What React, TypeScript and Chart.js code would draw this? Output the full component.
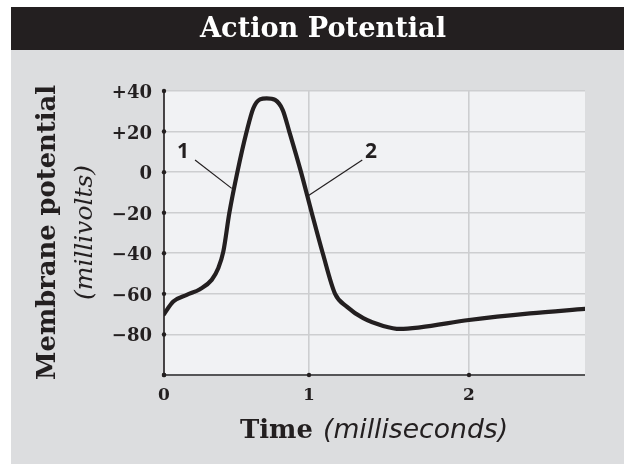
import React, { useEffect, useRef } from 'react';
import { Chart, registerables, LinearScale } from 'chart.js';

// ---------- data ----------
const TITLE = 'Action Potential';
const Y_TITLE = 'Membrane potential';
const Y_SUBTITLE = '(millivolts)';
const X_TITLE = 'Time';
const X_SUBTITLE = '(milliseconds)';

const timeMs = [
  0, 0.064, 0.157, 0.248, 0.329, 0.374, 0.409, 0.451, 0.506, 0.57,
  0.616, 0.662, 0.708, 0.766, 0.819, 0.864, 0.945, 1.017, 1.086, 1.163,
  1.236, 1.339, 1.464, 1.569, 1.694, 2.0, 2.381, 2.725,
];
const potentialMv = [
  -70, -63.8, -60.5, -57.7, -53.1, -47.4, -39.2, -20, 0, 20,
  31.5, 35.9, 36.4, 35.6, 30.6, 20, 0, -20, -40, -60,
  -66.3, -72, -75.8, -77.3, -76.5, -72.9, -69.6, -67.4,
];

const X_MAX = 2.725;
const X_TICK_VALUES = [0, 1, 2];
const X_TICK_LABELS = ['0', '1', '2'];
const Y_MIN = -100;
const Y_MAX = 40;
const Y_GRID_VALUES = [-100, -80, -60, -40, -20, 0, 20, 40];
const Y_TICK_VALUES = [-80, -60, -40, -20, 0, 20, 40];
const Y_TICK_LABELS = ['\u221280', '\u221260', '\u221240', '\u221220', '0', '+20', '+40'];

// callouts: label, label anchor (ms, mV), leader start, leader end
const calloutLabels = ['1', '2'];
const calloutLabelX = [0.131, 1.3875];
const calloutLabelY = [6.8, 6.8];
const leaderStartX = [0.214, 1.333];
const leaderStartY = [6.0, 6.0];
const leaderEndX = [0.467, 0.992];
const leaderEndY = [-8.0, -11.7];

// the printed time axis is not evenly spaced: 0->1 is shorter than 1->2
const X_BREAK_VALUES = [0, 1, 2, X_MAX];
const X_BREAK_FRACTIONS = [0, 145 / 421, 305 / 421, 1];

// ---------- style ----------
const INK = '#231f20';
const PANEL = '#dcdddf';
const PLOT_BG = '#f1f2f4';
const GRID = '#cdced0';
const X_AXIS = '#555557';

function valueToFraction(v: number) {
  const b = X_BREAK_VALUES, f = X_BREAK_FRACTIONS;
  let i = 0;
  while (i < b.length - 2 && v > b[i + 1]) i++;
  const t = (v - b[i]) / (b[i + 1] - b[i]);
  return f[i] + t * (f[i + 1] - f[i]);
}
function fractionToValue(d: number) {
  const b = X_BREAK_VALUES, f = X_BREAK_FRACTIONS;
  let i = 0;
  while (i < f.length - 2 && d > f[i + 1]) i++;
  const t = (d - f[i]) / (f[i + 1] - f[i]);
  return b[i] + t * (b[i + 1] - b[i]);
}

class SegmentedScale extends LinearScale {
  static id = 'segmented';
  static defaults = LinearScale.defaults;
  getPixelForValue(value: any) {
    if (value === null || value === undefined) return NaN;
    return (this as any).getPixelForDecimal(valueToFraction(value));
  }
  getValueForPixel(pixel: number) {
    return fractionToValue((this as any).getDecimalForPixel(pixel));
  }
}

Chart.register(...registerables, SegmentedScale as any);

function fitFont(ctx: CanvasRenderingContext2D, text: string, style: string, family: string, target: number) {
  const base = 20;
  ctx.font = `${style} ${base}px ${family}`;
  const w = ctx.measureText(text).width;
  const size = (base * target) / w;
  ctx.font = `${style} ${size.toFixed(2)}px ${family}`;
}

const decorPlugin = {
  id: 'decor',
  beforeDraw(chart: any) {
    const { ctx, chartArea } = chart;
    ctx.save();
    ctx.fillStyle = '#ffffff';
    ctx.fillRect(0, 0, 624, 464);
    ctx.fillStyle = PANEL;
    ctx.fillRect(11, 50, 613, 414);
    ctx.fillStyle = INK;
    ctx.fillRect(11, 7, 613, 43);
    ctx.fillStyle = PLOT_BG;
    ctx.fillRect(chartArea.left, chartArea.top, chartArea.right - chartArea.left, chartArea.bottom - chartArea.top);
    // title
    ctx.fillStyle = '#ffffff';
    fitFont(ctx, TITLE, 'bold', '"DejaVu Serif"', 246);
    ctx.textAlign = 'center';
    ctx.textBaseline = 'alphabetic';
    ctx.fillText(TITLE, 323, 37);
    ctx.restore();
  },
  afterDraw(chart: any) {
    const { ctx, chartArea, scales } = chart;
    const xs = scales.x, ys = scales.y;
    ctx.save();
    // axes
    ctx.strokeStyle = X_AXIS;
    ctx.lineWidth = 2;
    ctx.beginPath();
    ctx.moveTo(chartArea.left, chartArea.bottom);
    ctx.lineTo(chartArea.right, chartArea.bottom);
    ctx.stroke();
    ctx.strokeStyle = INK;
    ctx.lineWidth = 1.6;
    ctx.beginPath();
    ctx.moveTo(chartArea.left, chartArea.top);
    ctx.lineTo(chartArea.left, chartArea.bottom);
    ctx.stroke();
    // tick dots
    ctx.fillStyle = INK;
    Y_GRID_VALUES.forEach((v) => {
      ctx.beginPath();
      ctx.arc(chartArea.left, ys.getPixelForValue(v), 2.2, 0, Math.PI * 2);
      ctx.fill();
    });
    X_TICK_VALUES.forEach((v) => {
      ctx.beginPath();
      ctx.arc(xs.getPixelForValue(v), chartArea.bottom, 2.2, 0, Math.PI * 2);
      ctx.fill();
    });
    // tick labels
    ctx.fillStyle = INK;
    ctx.font = 'bold 18px "DejaVu Serif"';
    ctx.textAlign = 'right';
    ctx.textBaseline = 'alphabetic';
    Y_TICK_VALUES.forEach((v, i) => {
      ctx.fillText(Y_TICK_LABELS[i], 152, ys.getPixelForValue(v) + 7);
    });
    ctx.font = 'bold 17px "DejaVu Serif"';
    ctx.textAlign = 'center';
    X_TICK_VALUES.forEach((v, i) => {
      ctx.fillText(X_TICK_LABELS[i], xs.getPixelForValue(v), 400);
    });
    // y title
    ctx.save();
    ctx.translate(55, 232.5);
    ctx.rotate(-Math.PI / 2);
    ctx.textAlign = 'center';
    fitFont(ctx, Y_TITLE, 'bold', '"DejaVu Serif"', 295);
    ctx.fillText(Y_TITLE, 0, 0);
    ctx.restore();
    ctx.save();
    ctx.translate(92, 232.5);
    ctx.rotate(-Math.PI / 2);
    ctx.textAlign = 'center';
    fitFont(ctx, Y_SUBTITLE, 'italic', '"DejaVu Serif"', 135);
    ctx.fillText(Y_SUBTITLE, 0, 0);
    ctx.restore();
    // x title
    ctx.textAlign = 'left';
    fitFont(ctx, X_TITLE, 'bold', '"DejaVu Serif"', 73);
    ctx.fillText(X_TITLE, 240, 438);
    fitFont(ctx, X_SUBTITLE, 'italic', '"DejaVu Sans"', 185);
    ctx.fillText(X_SUBTITLE, 323, 438);
    // callouts
    ctx.strokeStyle = INK;
    ctx.lineWidth = 1.2;
    calloutLabels.forEach((lab, i) => {
      ctx.beginPath();
      ctx.moveTo(xs.getPixelForValue(leaderStartX[i]), ys.getPixelForValue(leaderStartY[i]));
      ctx.lineTo(xs.getPixelForValue(leaderEndX[i]), ys.getPixelForValue(leaderEndY[i]));
      ctx.stroke();
      ctx.font = 'bold 21px "Open Sans"';
      ctx.textAlign = 'center';
      ctx.fillText(lab, xs.getPixelForValue(calloutLabelX[i]), ys.getPixelForValue(calloutLabelY[i]));
    });
    ctx.restore();
  },
};

export default function App() {
  const ref = useRef<HTMLCanvasElement | null>(null);
  useEffect(() => {
    if (!ref.current) return;
    const chart = new Chart(ref.current, {
      type: 'line',
      data: {
        datasets: [
          {
            data: timeMs.map((t, i) => ({ x: t, y: potentialMv[i] })),
            borderColor: INK,
            borderWidth: 4.2,
            pointRadius: 0,
            cubicInterpolationMode: 'monotone',
            fill: false,
            borderCapStyle: 'round',
            borderJoinStyle: 'round',
          } as any,
        ],
      },
      options: {
        responsive: false,
        animation: false,
        devicePixelRatio: 1,
        layout: { padding: { left: 164, top: 91, right: 39, bottom: 89 } },
        scales: {
          x: {
            type: 'segmented' as any,
            min: 0,
            max: X_MAX,
            afterBuildTicks: (s: any) => {
              s.ticks = X_TICK_VALUES.map((v) => ({ value: v }));
            },
            ticks: { display: false },
            grid: { color: GRID, lineWidth: 1.6, drawTicks: false },
            border: { display: false },
          } as any,
          y: {
            type: 'linear',
            min: Y_MIN,
            max: Y_MAX,
            afterBuildTicks: (s: any) => {
              s.ticks = Y_GRID_VALUES.map((v) => ({ value: v }));
            },
            ticks: { display: false },
            grid: { color: GRID, lineWidth: 1.6, drawTicks: false },
            border: { display: false },
          },
        },
        plugins: {
          legend: { display: false },
          tooltip: { enabled: false },
          title: { display: false },
        },
      } as any,
      plugins: [decorPlugin as any],
    });
    return () => chart.destroy();
  }, []);
  return (
    <div style={{ position: 'fixed', left: 0, top: 0, width: 624, height: 464 }}>
      <canvas ref={ref} width={624} height={464} style={{ display: 'block' }} />
    </div>
  );
}
